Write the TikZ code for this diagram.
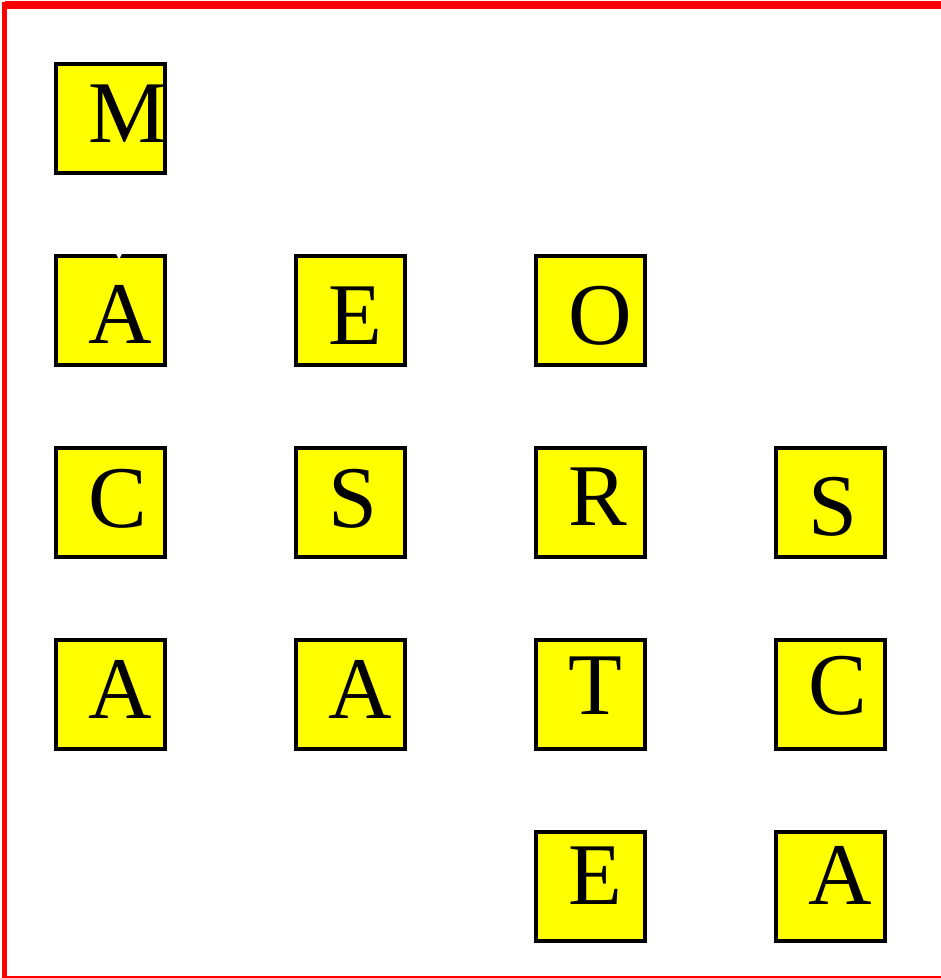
\documentclass[tikz,border=0pt]{standalone}
\usepackage{fontspec}
\setmainfont{Liberation Serif}
\usetikzlibrary{arrows.meta}
\definecolor{tilefill}{HTML}{FFFF00}
\definecolor{framered}{HTML}{FF0000}

\begin{document}
\begin{tikzpicture}[
  x=0.75pt,y=-0.75pt,
  line cap=butt,line join=miter,
  tile/.style={draw=black,fill=tilefill,line width=3.2pt,
    minimum size=81.5pt,inner sep=0pt},
  glyph/.style={anchor=base west,inner sep=0pt,
    font=\fontsize{66}{66}\selectfont},
  link/.style={draw=white,line width=1.6pt},
  frame/.style={draw=framered,line width=4.2pt}
]
\useasboundingbox (0,0) rectangle (941,978);

% Outer frame, its right side runs off the page.
\draw[frame] (4.5,5) rectangle (990,978.5);
\draw[frame,line width=6.5pt] (4.5,5) -- (990,5);

% Tiles, column by column (240 apart), rows 192 apart.
\node[tile] (m)  at (110.5,118.5) {};
\node[tile] (a1) at (110.5,310.5) {};
\node[tile] (c1) at (110.5,502.5) {};
\node[tile] (a3) at (110.5,694.5) {};
\node[tile] (e2) at (350.5,310.5) {};
\node[tile] (s2) at (350.5,502.5) {};
\node[tile] (a4) at (350.5,694.5) {};
\node[tile] (o)  at (590.5,310.5) {};
\node[tile] (r)  at (590.5,502.5) {};
\node[tile] (t)  at (590.5,694.5) {};
\node[tile] (e5) at (590.5,886.5) {};
\node[tile] (s4) at (830.5,502.5) {};
\node[tile] (c4) at (830.5,694.5) {};
\node[tile] (a5) at (830.5,886.5) {};

% Letters sit a little right of centre, baselines vary per tile.
\node[glyph] (lm)  at ([shift={(34,80.5)}]m.north west)  {M};
\node[glyph] (la1) at ([shift={(34,89.5)}]a1.north west) {A};
\node[glyph] (lc1) at ([shift={(34,81.5)}]c1.north west) {C};
\node[glyph] (la3) at ([shift={(34,80.5)}]a3.north west) {A};
\node[glyph] (le2) at ([shift={(34,90.5)}]e2.north west) {E};
\node[glyph] (ls2) at ([shift={(34,81.5)}]s2.north west) {S};
\node[glyph] (la4) at ([shift={(34,80.5)}]a4.north west) {A};
\node[glyph] (lo)  at ([shift={(34,90.5)}]o.north west)  {O};
\node[glyph] (lr)  at ([shift={(34,79.5)}]r.north west)  {R};
\node[glyph] (lt)  at ([shift={(34,76.5)}]t.north west)  {T};
\node[glyph] (le5) at ([shift={(34,74.5)}]e5.north west) {E};
\node[glyph] (ls4) at ([shift={(34,89.5)}]s4.north west) {S};
\node[glyph] (lc4) at ([shift={(34,76.5)}]c4.north west) {C};
\node[glyph] (la5) at ([shift={(34,74.5)}]a5.north west) {A};

% White links, only visible where they cross the tile borders.
\draw[link,-{Stealth[length=6pt,width=6pt]}]
  ([shift={(8.5,0)}]m.south) -- ([shift={(8.5,5.5)}]a1.north);
\foreach \u/\v in {a1/c1,c1/a3,e2/s2,s2/a4,o/r,r/t,t/e5,c4/a5}
  \draw[link] ([shift={(8.5,0)}]\u.south) -- ([shift={(8.5,0)}]\v.north);
\foreach \u/\v in {a1/e2,e2/o,r/s4}
  \draw[link] ([shift={(0,-7.5)}]\u.east) -- ([shift={(0,-7.5)}]\v.west);

\end{tikzpicture}
\end{document}
